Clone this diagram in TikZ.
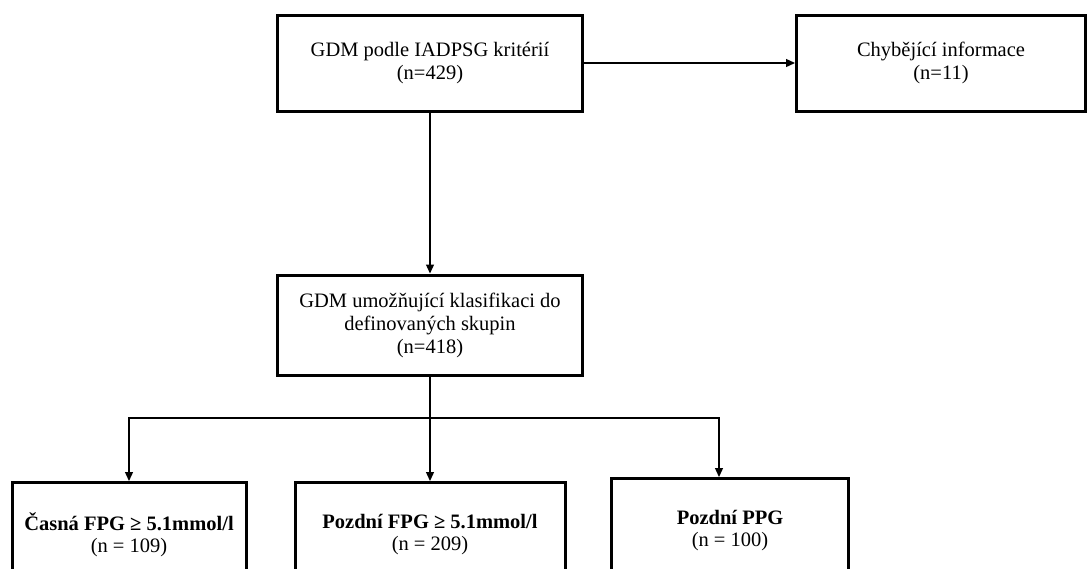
\documentclass[tikz,border=0pt]{standalone}
\usepackage{fontspec}
\setmainfont{Liberation Serif}
\usetikzlibrary{positioning, arrows.meta}

\tikzset{
  stagebox/.style={draw=black, line width=3pt, align=center, inner sep=0pt,
    font=\fontsize{20.5}{23}\selectfont},
  flowarrow/.style={line width=1.3pt, -{Triangle[length=9pt, width=8pt]}}
}

\begin{document}
\begin{tikzpicture}[x=1pt, y=-1pt]
        % Rámec obrázku
        \useasboundingbox (0, 0) rectangle (1089, 568);
        \clip (0, 0) rectangle (1089, 568);

        % Horní úroveň
        \node[stagebox, minimum width=305, minimum height=96] (gdm) at (430, 63) {GDM podle IADPSG kritérií\\(n=429)};
        \node[stagebox, minimum width=289, minimum height=96] (missing) at (941, 63) {Chybějící informace\\(n=11)};

        % Střední úroveň
        \node[stagebox, minimum width=305, minimum height=100] (classif) at (430, 325) {GDM umožňující klasifikaci do\\definovaných skupin\\(n=418)};

        % Spodní skupiny
        \node[stagebox, minimum width=234, minimum height=104, anchor=north, font=\fontsize{20.5}{22}\selectfont] (early) at (129, 481) {\textbf{Časná FPG ≥ 5.1mmol/l}\\(n = 109)};
        \node[stagebox, minimum width=270, minimum height=104, anchor=north, font=\fontsize{20.5}{22}\selectfont] (latefpg) at (430, 481) {\textbf{Pozdní FPG ≥ 5.1mmol/l}\\(n = 209)};
        \node[stagebox, minimum width=237, minimum height=104, anchor=north, font=\fontsize{20.5}{22}\selectfont] (lateppg) at (730, 477) {\textbf{Pozdní PPG}\\(n = 100)};

        % Šipky
        \draw[flowarrow] (gdm.east) -- (missing.west);
        \draw[flowarrow] (gdm.south) -- (classif.north);
        \coordinate (split) at (classif.south |- 0, 418);
        \draw[flowarrow] (classif.south) -- (latefpg.north);
        \draw[flowarrow] (split) -| (early.north);
        \draw[flowarrow] (split) -| ([xshift=-11pt]lateppg.north);
    \end{tikzpicture}
\end{document}
